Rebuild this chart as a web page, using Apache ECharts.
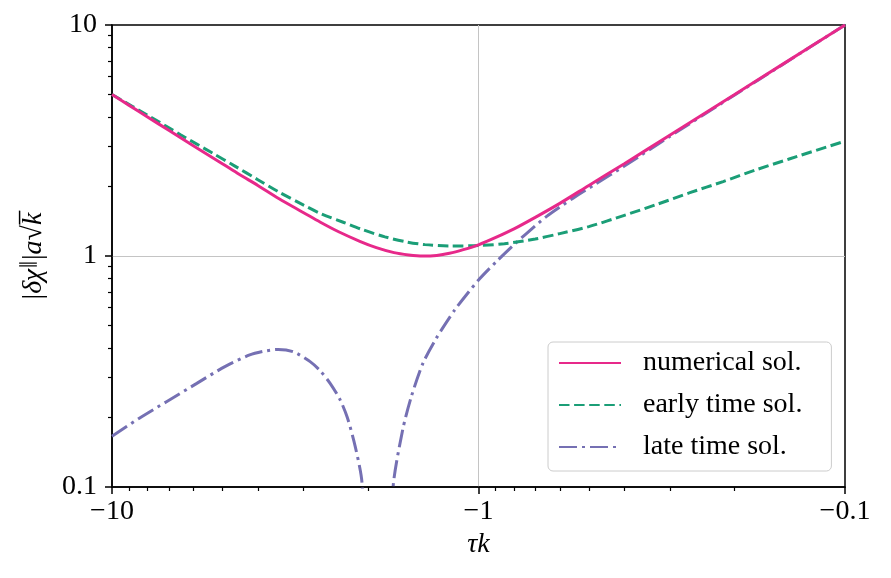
<!DOCTYPE html>
<html>
<head>
<meta charset="utf-8">
<script src="https://cdn.jsdelivr.net/npm/echarts@6/dist/echarts.min.js"></script>
<style>
html, body { margin: 0; padding: 0; background: #fff; }
#chart { width: 891px; height: 578px; }
</style>
</head>
<body>
<div id="chart"></div>
<script>
// |tau k| values (axis shows -tau k on a log scale)
const tauNum = [10, 9, 8, 7, 6, 5, 4.5, 4, 3.5, 3, 2.7, 2.4, 2.1, 1.9, 1.7, 1.55, 1.42, 1.3, 1.2, 1.1, 1.0, 0.9, 0.8, 0.7, 0.6, 0.5, 0.4, 0.3, 0.2, 0.15, 0.1];
const numerical = [5.0, 4.5, 4.0, 3.5, 3.0, 2.51, 2.26, 2.02, 1.77, 1.54, 1.40, 1.27, 1.155, 1.087, 1.034, 1.011, 1.0, 1.006, 1.027, 1.065, 1.118, 1.2, 1.31, 1.47, 1.69, 2.02, 2.51, 3.34, 5.0, 6.67, 10.0];

const tauEarly = [10, 8, 6.5, 5.3, 4.62, 4, 3.52, 3, 2.68, 2.34, 2.07, 1.8, 1.57, 1.4, 1.2, 1.0, 0.85, 0.7, 0.6, 0.5, 0.4, 0.327, 0.265, 0.215, 0.175, 0.142, 0.1];
const early = [5.0, 4.07, 3.35, 2.78, 2.45, 2.14, 1.90, 1.66, 1.52, 1.40, 1.30, 1.21, 1.15, 1.12, 1.105, 1.11, 1.13, 1.185, 1.25, 1.34, 1.50, 1.67, 1.88, 2.10, 2.36, 2.63, 3.14];

// late time solution, split at its zero crossing near |tau k| = 1.88
const tauLateA = [10, 8.4, 7.1, 5.87, 4.92, 4.21, 3.85, 3.52, 3.2, 2.88, 2.7, 2.54, 2.39, 2.28, 2.17, 2.08, 1.88];
const lateA = [0.166, 0.199, 0.234, 0.281, 0.332, 0.373, 0.387, 0.394, 0.385, 0.349, 0.318, 0.281, 0.240, 0.200, 0.150, 0.105, 0.005];
const tauLateB = [1.88, 1.71, 1.61, 1.525, 1.417, 1.303, 1.161, 1.0, 0.894, 0.8, 0.74, 0.653, 0.552, 0.477, 0.4, 0.34, 0.3, 0.2, 0.15, 0.1];
const lateB = [0.005, 0.100, 0.177, 0.246, 0.344, 0.441, 0.584, 0.787, 0.945, 1.12, 1.25, 1.48, 1.78, 2.06, 2.45, 2.90, 3.30, 4.98, 6.65, 10.0];

const minorTicks = [0.2, 0.3, 0.4, 0.5, 0.6, 0.7, 0.8, 0.9, 2, 3, 4, 5, 6, 7, 8, 9];

const FONT = 'Liberation Serif';
const pairs = (xs, ys) => xs.map((x, i) => [x, ys[i]]);

const baseAxis = { type: 'log', logBase: 10, min: 0.1, max: 10 };

const majorAxis = (extra) => Object.assign({}, baseAxis, {
  axisLine: { show: true, lineStyle: { color: '#000', width: 1.5 } },
  axisTick: { show: true, length: 7, lineStyle: { color: '#000', width: 1.5 } },
  axisLabel: { fontFamily: FONT, fontSize: 28, color: '#000' },
  splitLine: { show: true, showMinLine: false, showMaxLine: false, lineStyle: { color: '#c4c4c4', width: 1 } },
  minorTick: { show: false },
  nameTextStyle: { fontFamily: FONT, fontSize: 28, color: '#000' }
}, extra);

const minorAxis = (extra) => Object.assign({}, baseAxis, {
  axisLine: { show: false },
  axisLabel: { show: false },
  splitLine: { show: false },
  axisTick: { show: true, length: 4, customValues: minorTicks, lineStyle: { color: '#000', width: 1.2 } }
}, extra);

const purple = '#7570b3';
const lateStyle = { color: purple, width: 3, type: [18, 5, 3, 5] };

const chart = echarts.init(document.getElementById('chart'));
chart.setOption({
  animation: false,
  backgroundColor: '#fff',
  grid: { left: 112, right: 46, top: 25, bottom: 91, show: true, borderColor: '#000', borderWidth: 1.5, backgroundColor: 'transparent' },
  xAxis: [
    majorAxis({
      inverse: true, position: 'bottom',
      name: 'τk', nameLocation: 'middle', nameGap: 44,
      nameTextStyle: { fontFamily: FONT, fontSize: 28, fontStyle: 'italic', color: '#000' },
      axisLabel: { fontFamily: FONT, fontSize: 28, color: '#000', margin: 11, formatter: v => '\u2212' + v }
    }),
    minorAxis({ inverse: true, position: 'bottom' })
  ],
  yAxis: [
    majorAxis({
      position: 'left',
      name: '|{i|δχ}{s|∥}|{i|a}√{i|k\u0305}', nameLocation: 'middle', nameGap: 63, nameRotate: 90,
      nameTextStyle: {
        fontFamily: FONT, fontSize: 28, color: '#000',
        rich: {
          i: { fontFamily: FONT, fontSize: 28, fontStyle: 'italic', color: '#000' },
          s: { fontFamily: FONT, fontSize: 18, color: '#000', verticalAlign: 'top', lineHeight: 30 }
        }
      },
      axisLabel: { fontFamily: FONT, fontSize: 28, color: '#000', margin: 15 }
    }),
    minorAxis({ position: 'left' })
  ],
  legend: {
    orient: 'vertical', left: 548, top: 342,
    itemWidth: 62, itemHeight: 14, itemGap: 14,
    padding: [7, 29, 10, 10],
    itemStyle: { opacity: 0 },
    backgroundColor: 'rgba(255,255,255,0.8)', borderColor: '#cccccc', borderWidth: 1, borderRadius: 5,
    textStyle: { fontFamily: FONT, fontSize: 28, lineHeight: 28, color: '#000', padding: [0, 0, 0, 17] },
    data: ['numerical sol.', 'early time sol.', 'late time sol.']
  },
  series: [
    {
      name: 'late time sol.', type: 'line', symbol: 'none', smooth: 0.25, z: 2,
      data: pairs(tauLateA, lateA),
      lineStyle: lateStyle, itemStyle: { color: purple }
    },
    {
      name: 'late time sol.', type: 'line', symbol: 'none', smooth: 0.25, z: 2,
      data: pairs(tauLateB, lateB),
      lineStyle: lateStyle, itemStyle: { color: purple }
    },
    {
      name: 'early time sol.', type: 'line', symbol: 'none', smooth: 0.3, z: 3,
      data: pairs(tauEarly, early),
      lineStyle: { color: '#1b9e77', width: 3, type: [10.5, 4.6] },
      itemStyle: { color: '#1b9e77' }
    },
    {
      name: 'numerical sol.', type: 'line', symbol: 'none', smooth: 0.3, z: 4,
      data: pairs(tauNum, numerical),
      lineStyle: { color: '#e7298a', width: 3, type: 'solid' },
      itemStyle: { color: '#e7298a' }
    }
  ]
});
</script>
</body>
</html>
